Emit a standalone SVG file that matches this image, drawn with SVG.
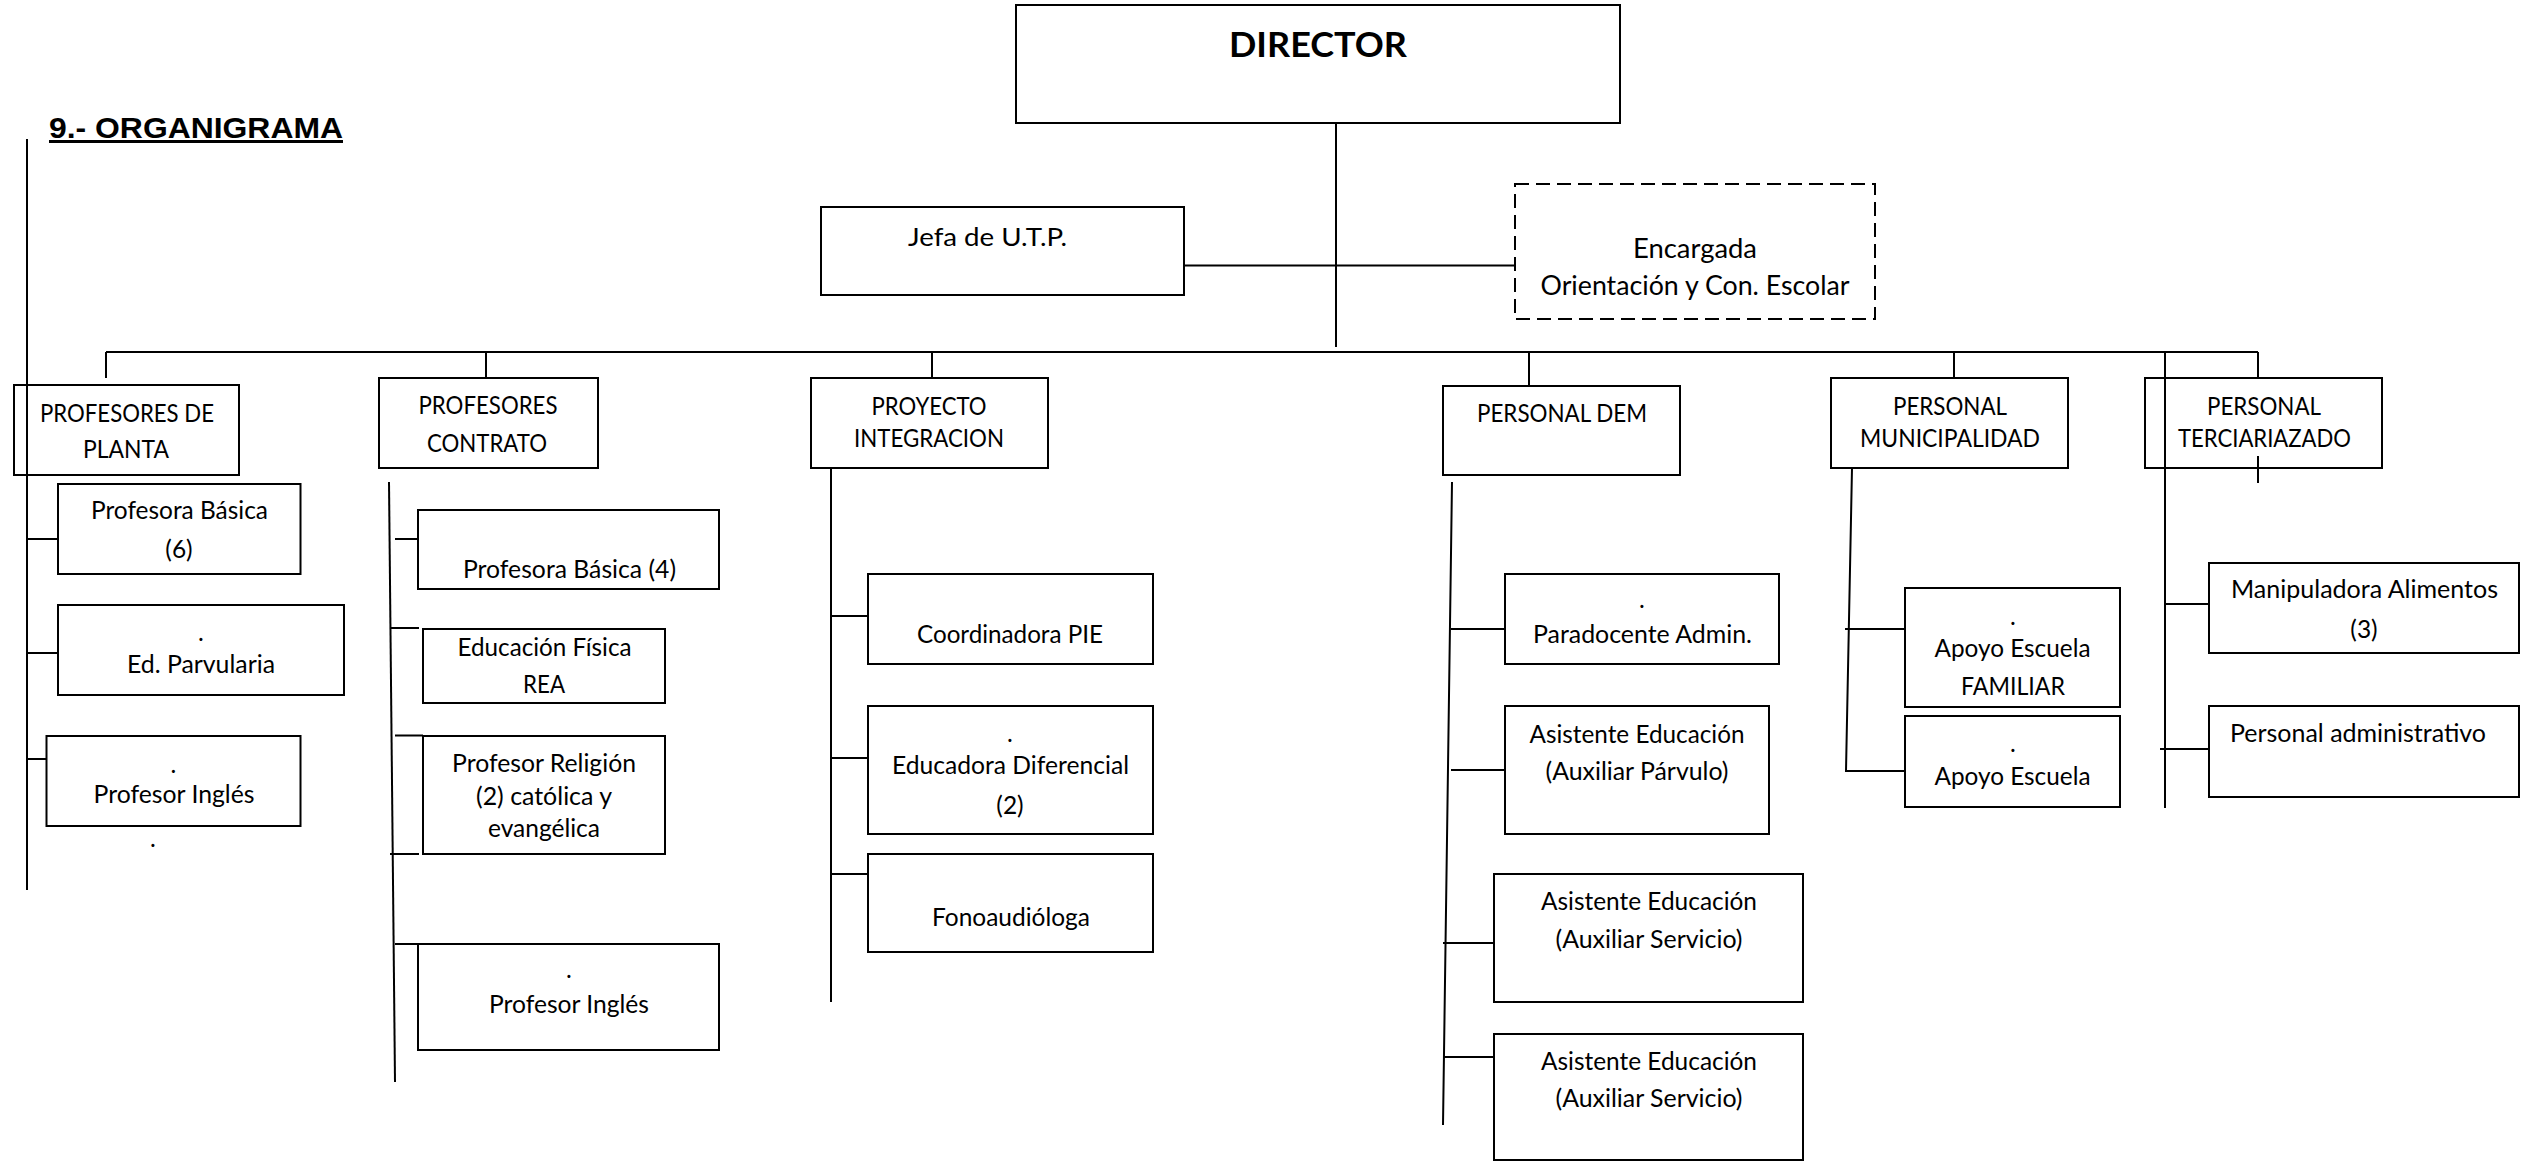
<svg xmlns="http://www.w3.org/2000/svg" width="2523" height="1162" viewBox="0 0 2523 1162">
<style>
.bx{fill:#fff;stroke:#000;stroke-width:2}
.ds{fill:#fff;stroke:#000;stroke-width:2;stroke-dasharray:14 7}
.t{font-family:Lato,"Open Sans",sans-serif;font-size:24.5px;fill:#000;text-anchor:middle}
.t2{font-family:Lato,"Open Sans",sans-serif;font-size:27px;fill:#000;text-anchor:middle}
.b{font-family:Lato,sans-serif;font-size:35px;font-weight:bold;fill:#000;text-anchor:middle}
.c{fill:none;stroke:#000;stroke-width:2}
</style>
<rect x="0" y="0" width="2523" height="1162" fill="#fff"/>
<text x="49" y="138" font-family="'Liberation Sans',Arial,sans-serif" font-size="30" font-weight="bold" text-decoration="underline" textLength="294" lengthAdjust="spacingAndGlyphs">9.- ORGANIGRAMA</text>
<g id="connectors" class="c">
<path d="M1336 123V347"/>
<path d="M1184 265.5H1515"/>
<path d="M106 352H2258"/>
<path d="M106 352V378M486 352V378M932 352V378M1529 352V386M1954 352V378M2258 352V378"/>
<path d="M2165 352V808"/>
<path d="M27 139V890"/>
<path d="M27 539H58M27 653H58M27 759H46.5"/>
<path d="M389 482L395 1082"/>
<path d="M395 539H418M391 628H419M395 735.5H423M390 854H419M395 944H418"/>
<path d="M831 468V1002M831 616H868M831 758H868M831 874H868"/>
<path d="M1452 482L1443 1125M1451 629H1505M1451 770H1505M1443 943H1494M1443 1057H1494"/>
<path d="M1852 468L1846 771H1905M1845 629H1905"/>
<path d="M2165 604H2209M2160 749H2209"/>
</g>
<g id="director"><rect class="bx" x="1016" y="5" width="604" height="118"/><text class="b" x="1318" y="57" textLength="178" lengthAdjust="spacingAndGlyphs">DIRECTOR</text></g>
<g id="utp"><rect class="bx" x="821" y="207" width="363" height="88"/><text class="t" x="987.5" y="246" textLength="159" lengthAdjust="spacingAndGlyphs">Jefa de U.T.P.</text></g>
<g id="encargada"><rect class="ds" x="1515" y="184" width="360" height="135"/><text class="t2" x="1695" y="258" textLength="124" lengthAdjust="spacingAndGlyphs">Encargada</text><text class="t2" x="1695" y="295" textLength="309" lengthAdjust="spacingAndGlyphs">Orientación y Con. Escolar</text></g>
<g id="planta"><rect class="bx" x="14" y="385" width="225" height="90"/><text class="t" x="127" y="422" textLength="174" lengthAdjust="spacingAndGlyphs">PROFESORES DE</text><text class="t" x="126" y="458" textLength="86" lengthAdjust="spacingAndGlyphs">PLANTA</text></g>
<g id="contrato"><rect class="bx" x="379" y="378" width="219" height="90"/><text class="t" x="488" y="414" textLength="139" lengthAdjust="spacingAndGlyphs">PROFESORES</text><text class="t" x="487" y="452" textLength="120" lengthAdjust="spacingAndGlyphs">CONTRATO</text></g>
<g id="proyecto"><rect class="bx" x="811" y="378" width="237" height="90"/><text class="t" x="929" y="415" textLength="115" lengthAdjust="spacingAndGlyphs">PROYECTO</text><text class="t" x="929" y="447" textLength="150" lengthAdjust="spacingAndGlyphs">INTEGRACION</text></g>
<g id="dem"><rect class="bx" x="1443" y="386" width="237" height="89"/><text class="t" x="1562" y="422" textLength="170" lengthAdjust="spacingAndGlyphs">PERSONAL DEM</text></g>
<g id="municipalidad"><rect class="bx" x="1831" y="378" width="237" height="90"/><text class="t" x="1950" y="415" textLength="114" lengthAdjust="spacingAndGlyphs">PERSONAL</text><text class="t" x="1950" y="447" textLength="180" lengthAdjust="spacingAndGlyphs">MUNICIPALIDAD</text></g>
<g id="terciarizado"><rect class="bx" x="2145" y="378" width="237" height="90"/><text class="t" x="2264" y="415" textLength="114" lengthAdjust="spacingAndGlyphs">PERSONAL</text><text class="t" x="2264.5" y="447" textLength="173" lengthAdjust="spacingAndGlyphs">TERCIARIAZADO</text></g>
<path class="c" d="M2165 378V468M2258 456V483M27 385V475"/>
<g id="basica6"><rect class="bx" x="58" y="484" width="242.5" height="90"/><text class="t" x="179.5" y="519" textLength="177" lengthAdjust="spacingAndGlyphs">Profesora Básica</text><text class="t" x="179" y="558">(6)</text></g>
<g id="parvularia"><rect class="bx" x="58" y="605" width="286" height="90"/><text class="t" x="201" y="641">.</text><text class="t" x="201" y="673" textLength="148" lengthAdjust="spacingAndGlyphs">Ed. Parvularia</text></g>
<g id="ingles1"><rect class="bx" x="46.5" y="736" width="254" height="90"/><text class="t" x="173.5" y="773">.</text><text class="t" x="174" y="803" textLength="161" lengthAdjust="spacingAndGlyphs">Profesor Inglés</text></g>
<text class="t" x="153" y="847">.</text>
<g id="basica4"><rect class="bx" x="418" y="510" width="301" height="79"/><text class="t" x="569.5" y="578" textLength="213" lengthAdjust="spacingAndGlyphs">Profesora Básica (4)</text></g>
<g id="edfisica"><rect class="bx" x="423" y="629" width="242" height="74"/><text class="t" x="544.5" y="656" textLength="174" lengthAdjust="spacingAndGlyphs">Educación Física</text><text class="t" x="544" y="693" textLength="42" lengthAdjust="spacingAndGlyphs">REA</text></g>
<g id="religion"><rect class="bx" x="423" y="736" width="242" height="118"/><text class="t" x="544" y="772" textLength="184" lengthAdjust="spacingAndGlyphs">Profesor Religión</text><text class="t" x="544" y="805" textLength="136" lengthAdjust="spacingAndGlyphs">(2) católica y</text><text class="t" x="544" y="837" textLength="112" lengthAdjust="spacingAndGlyphs">evangélica</text></g>
<g id="ingles2"><rect class="bx" x="418" y="944" width="301" height="106"/><text class="t" x="569" y="978">.</text><text class="t" x="569" y="1013" textLength="160" lengthAdjust="spacingAndGlyphs">Profesor Inglés</text></g>
<g id="coordinadora"><rect class="bx" x="868" y="574" width="285" height="90"/><text class="t" x="1010" y="643" textLength="186" lengthAdjust="spacingAndGlyphs">Coordinadora PIE</text></g>
<g id="diferencial"><rect class="bx" x="868" y="706" width="285" height="128"/><text class="t" x="1010" y="742">.</text><text class="t" x="1010.5" y="774" textLength="237" lengthAdjust="spacingAndGlyphs">Educadora Diferencial</text><text class="t" x="1010" y="814">(2)</text></g>
<g id="fono"><rect class="bx" x="868" y="854" width="285" height="98"/><text class="t" x="1011" y="926" textLength="158" lengthAdjust="spacingAndGlyphs">Fonoaudióloga</text></g>
<g id="paradocente"><rect class="bx" x="1505" y="574" width="274" height="90"/><text class="t" x="1642" y="608">.</text><text class="t" x="1642.5" y="643" textLength="219" lengthAdjust="spacingAndGlyphs">Paradocente Admin.</text></g>
<g id="parvulo"><rect class="bx" x="1505" y="706" width="264" height="128"/><text class="t" x="1637" y="743" textLength="215" lengthAdjust="spacingAndGlyphs">Asistente Educación</text><text class="t" x="1637" y="780" textLength="183" lengthAdjust="spacingAndGlyphs">(Auxiliar Párvulo)</text></g>
<g id="servicio1"><rect class="bx" x="1494" y="874" width="309" height="128"/><text class="t" x="1649" y="910" textLength="216" lengthAdjust="spacingAndGlyphs">Asistente Educación</text><text class="t" x="1649" y="948" textLength="187" lengthAdjust="spacingAndGlyphs">(Auxiliar Servicio)</text></g>
<g id="servicio2"><rect class="bx" x="1494" y="1034" width="309" height="126"/><text class="t" x="1649" y="1070" textLength="216" lengthAdjust="spacingAndGlyphs">Asistente Educación</text><text class="t" x="1649" y="1107" textLength="187" lengthAdjust="spacingAndGlyphs">(Auxiliar Servicio)</text></g>
<g id="familiar"><rect class="bx" x="1905" y="588" width="215" height="119"/><text class="t" x="2013" y="625">.</text><text class="t" x="2012.5" y="657" textLength="156" lengthAdjust="spacingAndGlyphs">Apoyo Escuela</text><text class="t" x="2013" y="695" textLength="104" lengthAdjust="spacingAndGlyphs">FAMILIAR</text></g>
<g id="apoyo"><rect class="bx" x="1905" y="716" width="215" height="91"/><text class="t" x="2013" y="752">.</text><text class="t" x="2012.5" y="785" textLength="156" lengthAdjust="spacingAndGlyphs">Apoyo Escuela</text></g>
<g id="manipuladora"><rect class="bx" x="2209" y="563" width="310" height="90"/><text class="t" x="2364.5" y="598" textLength="267" lengthAdjust="spacingAndGlyphs">Manipuladora Alimentos</text><text class="t" x="2364" y="638">(3)</text></g>
<g id="administrativo"><rect class="bx" x="2209" y="706" width="310" height="91"/><text class="t" x="2358" y="742" textLength="256" lengthAdjust="spacingAndGlyphs">Personal administrativo</text></g>
</svg>
